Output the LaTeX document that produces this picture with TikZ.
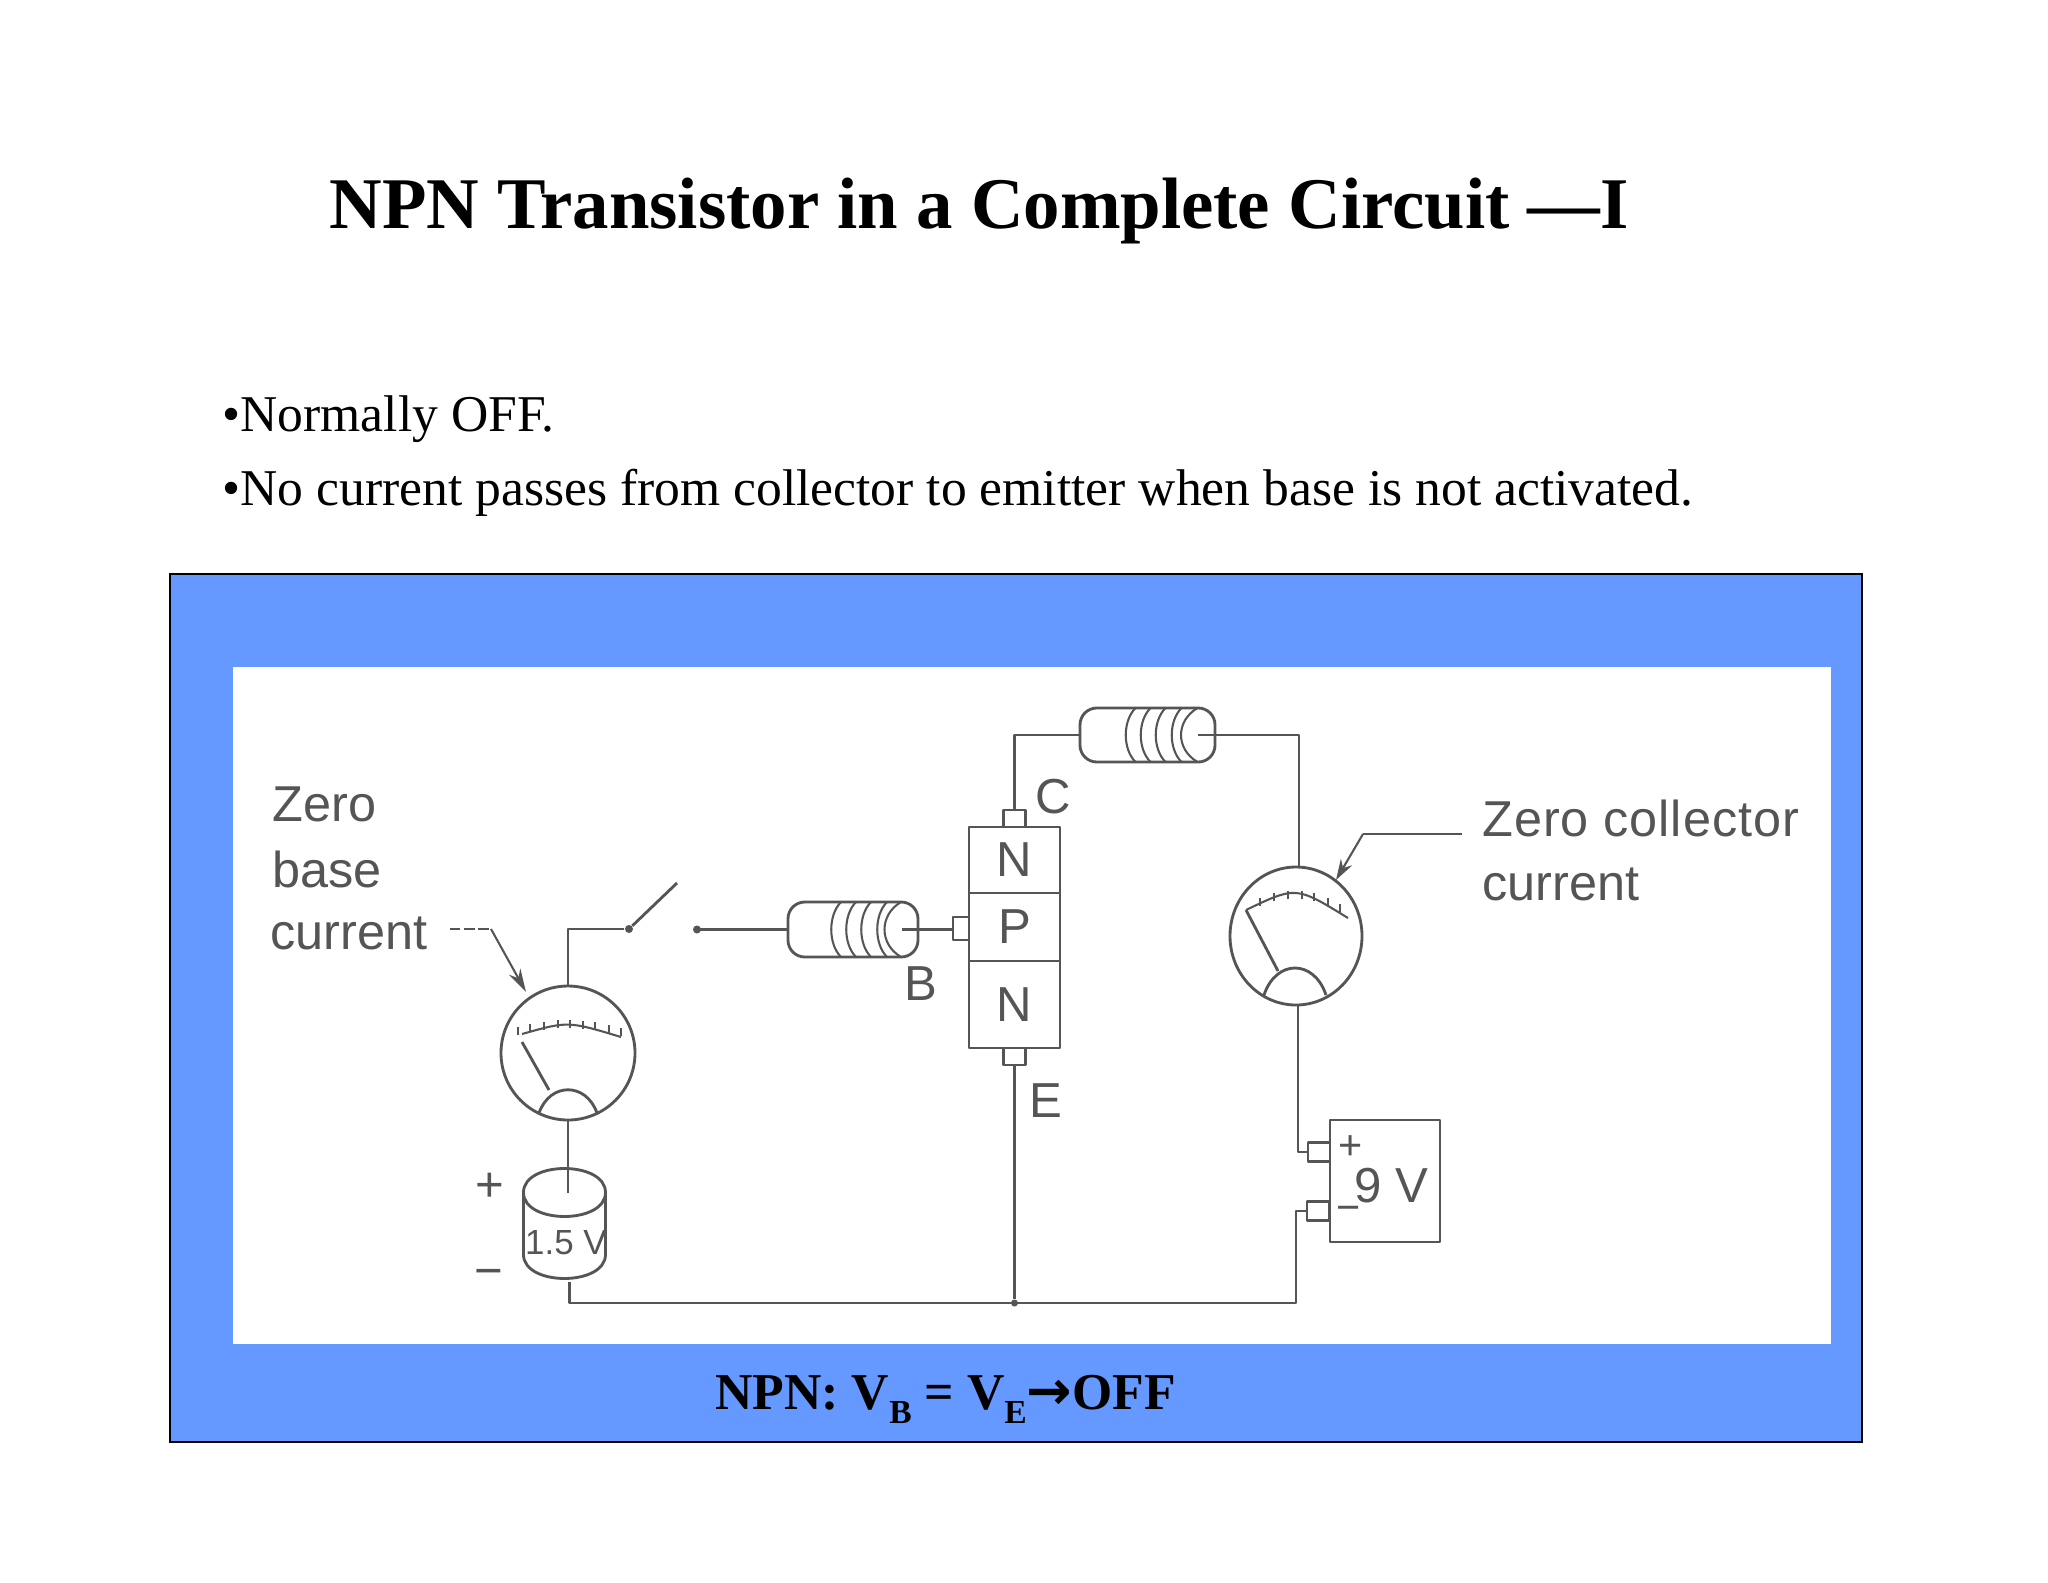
\documentclass[tikz,border=0pt]{standalone}
\usepackage{fontspec}
\setmainfont{Liberation Serif}
\newfontfamily\scanfont{Liberation Sans}
\newfontfamily\arrowfont{DejaVu Sans}
\usetikzlibrary{positioning,arrows.meta,shapes.geometric}
\definecolor{panelblue}{HTML}{6699FF}
\definecolor{scanink}{HTML}{555555}
\def\px{0.3867pt}
\tikzset{
  wire/.style={draw=scanink, line width=1.1pt, line join=round},
  thinwire/.style={draw=scanink, line width=0.8pt},
  lbl/.style={text=scanink, font=\scanfont\fontsize{19}{23}\selectfont, inner sep=0pt},
  sidetext/.style={lbl, anchor=west, font=\scanfont\fontsize{19.5}{23}\selectfont},
  layerbox/.style={wire, minimum width=91*\px, inner sep=0pt, outer sep=0pt, text=scanink, font=\scanfont\fontsize{19}{23}\selectfont},
  tabbox/.style={wire, fill=white, minimum width=22*\px, minimum height=17*\px, inner sep=0pt, outer sep=0pt},
  meter/.style={wire, ellipse, inner sep=0pt, outer sep=0pt},
  resbody/.style={wire, rectangle, rounded corners=6.5pt, inner sep=0pt, outer sep=0pt},
  dotnode/.style={circle, fill=scanink, minimum size=8*\px, inner sep=0pt},
  headline/.style={anchor=base west, inner sep=0pt, font=\bfseries\fontsize{28.15}{34}\selectfont},
  bullet/.style={anchor=base west, inner sep=0pt, font=\fontsize{19.95}{24}\selectfont},
}
\newcommand{\lowsub}[1]{\raisebox{-0.28em}{\fontsize{13}{13}\selectfont #1}}
\begin{document}
\begin{tikzpicture}[x=\px, y=-\px]
\useasboundingbox (0,0) rectangle (2048,1582);
% titles
\node[headline] (title) at (329,228) {NPN Transistor in a Complete Circuit —I};
\node[bullet] (lineA) at (222,431) {•Normally OFF.};
\node[bullet] (lineB) at (222,505) {•No current passes from collector to emitter when base is not activated.};
% panel
\path[fill=panelblue, draw=black, line width=0.6pt] (170,574) rectangle (1862,1442);
\fill[white] (233,667) rectangle (1831,1344);
\node[headline, font=\bfseries\fontsize{20}{24}\selectfont] (caption) at (715,1409) {NPN: V\lowsub{B} = V\lowsub{E}{\arrowfont\fontsize{21}{24}\selectfont →}OFF};
% transistor
\node[layerbox, minimum height=66*\px] (topN) at (1014.5,860) {N};
\node[layerbox, minimum height=68*\px, below=0pt of topN] (midP) {P};
\node[layerbox, minimum height=87*\px, below=0pt of midP] (lowN) {N};
\node[tabbox, above=0pt of topN] (tabC) {};
\node[tabbox, below=0pt of lowN] (tabE) {};
\node[tabbox, left=0pt of midP, yshift=-1.5*\px, minimum width=16*\px, minimum height=23*\px] (tabB) {};
\node[lbl] (labC) at (1053,797) {C};
\node[lbl] (labE) at (1046,1101) {E};
\node[lbl] (labB) at (921,984) {B};
% base resistor
\node[resbody, draw, minimum width=130*\px, minimum height=55*\px] (resB) at (853,929.5) {};
\coordinate (resBin) at (902,929.5);
\foreach \dx in {-12,3,18,34} {
  \draw[thinwire] ([xshift=\dx*\px]resB.north) .. controls +(-13,13) and +(-13,-13) .. ([xshift=\dx*\px]resB.south);
}
\draw[thinwire] ([xshift=48*\px]resB.north) .. controls +(-22,13) and +(-22,-13) .. ([xshift=48*\px]resB.south);
\draw[wire] (resB.west) -- +(-91,0) coordinate (swC);
\draw[wire] (resBin) -- (resBin -| tabB.west);
% collector resistor
\node[resbody, draw, minimum width=135*\px, minimum height=54*\px] (resC) at (1147.5,735) {};
\coordinate (resCin) at (1198,735);
\foreach \dx in {-12,3,18,34} {
  \draw[thinwire] ([xshift=\dx*\px]resC.north) .. controls +(-13,13) and +(-13,-13) .. ([xshift=\dx*\px]resC.south);
}
\draw[thinwire] ([xshift=50*\px]resC.north) .. controls +(-22,13) and +(-22,-13) .. ([xshift=50*\px]resC.south);
\draw[wire] (tabC.north) |- (resC.west);
% base meter
\node[meter, draw, minimum width=134*\px, minimum height=134*\px] (meterB) at (568,1053) {};
\begin{scope}[shift={(meterB.center)}]
  \draw[thinwire] (-46,-19) .. controls (0,-32) .. (53,-16);
  \foreach \tx in {-50,-38,-24,-10,2,15,27,41,53} {
    \draw[thinwire] (\tx,{-25+\tx*\tx*0.0027}) -- +(0,-8);
  }
  \draw[wire] (-46,-11) -- (-19,37);
  \draw[wire] (-29,60) .. controls (-18,29) and (18,29) .. (29,60);
\end{scope}
% collector meter
\node[meter, draw, minimum width=132*\px, minimum height=138*\px] (meterC) at (1296,936) {};
\begin{scope}[shift={(meterC.center)}]
  \draw[thinwire] (-50,-26) .. controls (0,-50) .. (52,-18);
  \foreach \tx in {-36,-22,-8,6,18,32,44} {
    \draw[thinwire] (\tx,{-37+(\tx+2)*(\tx+2)*0.0062}) -- +(0,-8);
  }
  \draw[wire] (-50,-26) -- (-18,35);
  \draw[wire] (-32,59) .. controls (-20,23) and (18,23) .. (30,59);
\end{scope}
% base battery
\node[minimum width=82*\px, minimum height=112*\px, inner sep=0pt] (cellB) at (565,1225) {};
\draw[wire] (cellB.north west) ++(0,24) .. controls +(0,-32) and +(0,-32) .. ++(82,0)
  .. controls +(0,32) and +(0,32) .. ++(-82,0) -- ++(0,62)
  .. controls +(0,32) and +(0,32) .. ++(82,0) -- ++(0,-62);
\node[lbl, font=\scanfont\fontsize{13.5}{16}\selectfont] (cellBtext) at (566,1243) {1.5 V};
\node[lbl] (plusB) at (490,1187) {+};
\node[lbl] (minusB) at (489,1278) {−};
% collector battery
\node[wire, draw, minimum width=110*\px, minimum height=122*\px, inner sep=0pt, outer sep=0pt] (cellC) at (1385,1181) {};
\node[tabbox, minimum height=19*\px] (tabPlus) at (1319,1152) {};
\node[tabbox, minimum height=19*\px] (tabMinus) at (1318,1211) {};
\node[lbl, font=\scanfont\fontsize{16}{18}\selectfont] (plusC) at (1351,1148) {+};
\node[lbl] (nineV) at (1391,1186) {9 V};
\node[lbl, font=\scanfont\fontsize{16}{18}\selectfont] (minusC) at (1349,1214) {−};
% wiring
\node[dotnode] (swA) at (629,929) {};
\node[dotnode] (swD) at (swC) {};
\coordinate (swB) at (677,883);
\node[dotnode, minimum size=7*\px] (joint) at (1014.5,1303) {};
\coordinate (railL) at (569.5,1303);
\coordinate (railR) at (1296,1303);
\draw[wire] (meterB.north) |- (swA);
\draw[wire] (swA) -- (swB);
\draw[wire] (meterB.south) -- ++(0,73);
\draw[wire] (cellB.south) ++(4.5,0) -- (railL) -- (railR) |- (tabMinus.west);
\draw[wire] (tabE.south) -- (joint);
\draw[wire] (resCin) -| ([xshift=3*\px]meterC.north);
\draw[wire] ([xshift=2*\px]meterC.south) |- (tabPlus.west);
% leaders
\coordinate (leadA) at (450,929);
\coordinate (leadB) at (491,929);
\coordinate (leadC) at (526,992);
\coordinate (leadD) at (1462,834);
\coordinate (leadE) at (1363,834);
\coordinate (leadF) at (1336,880);
\draw[thinwire, dash pattern=on 4pt off 1.5pt] (leadA) -- (leadB);
\draw[thinwire, -{Stealth[length=9pt,width=5pt]}, fill=scanink] (leadB) -- (leadC);
\draw[thinwire] (leadD) -- (leadE);
\draw[thinwire, -{Stealth[length=8pt,width=5pt]}, fill=scanink] (leadE) -- (leadF);
% side labels
\node[sidetext] (zeroA) at (272,804) {Zero};
\node[sidetext] (zeroB) at (272,869) {base};
\node[sidetext] (zeroC) at (270,933) {current};
\node[sidetext, font=\scanfont\addfontfeature{LetterSpace=1.8}\fontsize{19.5}{23}\selectfont] (zeroD) at (1482,818) {Zero collector};
\node[sidetext] (zeroE) at (1482,884) {current};
\end{tikzpicture}
\end{document}
